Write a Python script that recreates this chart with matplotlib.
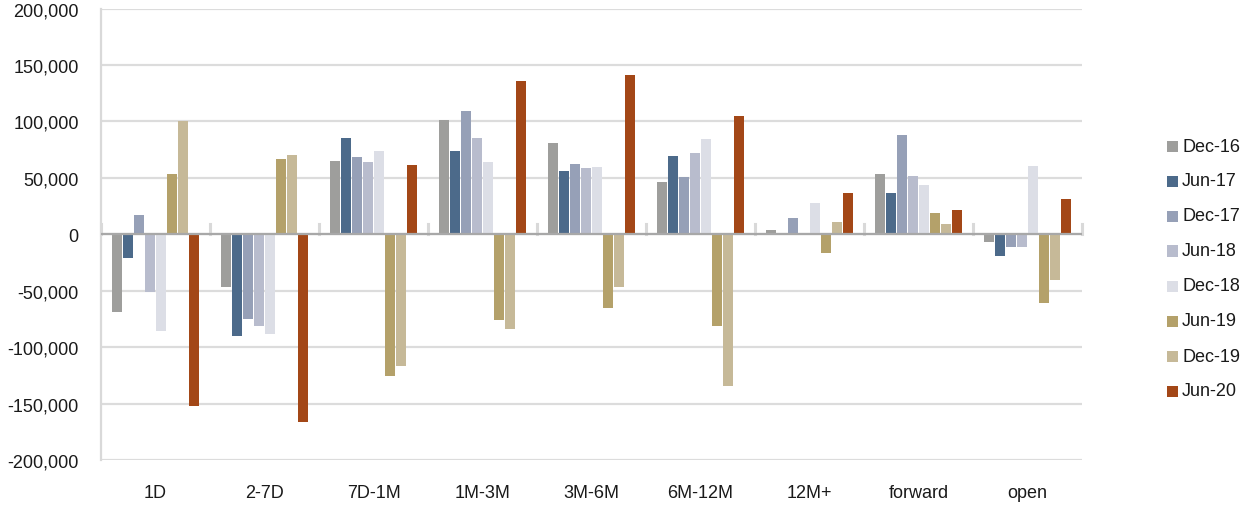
import matplotlib
matplotlib.use("Agg")
import matplotlib.pyplot as plt
from matplotlib.patches import Rectangle
from matplotlib.ticker import FuncFormatter, MultipleLocator
import numpy as np

plt.rcParams["font.family"] = ["Liberation Sans", "DejaVu Sans"]

categories = ["1D", "2-7D", "7D-1M", "1M-3M", "3M-6M", "6M-12M", "12M+", "forward", "open"]
series_names = ["Dec-16", "Jun-17", "Dec-17", "Jun-18", "Dec-18", "Jun-19", "Dec-19", "Jun-20"]
series_colors = ["#9e9e9c", "#4c6a8a", "#96a0b7", "#b8bccd", "#dcdee6", "#b4a16a", "#c6b998", "#a34717"]

dec16 = [-69000, -46600, 64600, 100900, 80500, 46000, 3500, 53100, -6800]
jun17 = [-21000, -90000, 85000, 73500, 55800, 69000, 1000, 36300, -19200]
dec17 = [16800, -75000, 68100, 108900, 62000, 50400, 14200, 87600, -11200]
jun18 = [-51000, -81000, 63700, 85000, 58400, 71700, 1500, 51300, -11200]
dec18 = [-85500, -88200, 73500, 63700, 59300, 84100, 27400, 43400, 60200]
jun19 = [53100, 66400, -125400, -75800, -65200, -81100, -16500, 18600, -60800]
dec19 = [100000, 70000, -116500, -83800, -46600, -134200, 10600, 8900, -40400]
jun20 = [-152000, -166000, 61000, 135400, 140700, 104400, 36300, 21200, 31000]

series_values = [dec16, jun17, dec17, jun18, dec18, jun19, dec19, jun20]

fig = plt.figure(figsize=(12.57, 5.06), dpi=100)
ax = fig.add_axes([0.0804, 0.0889, 0.8804 - 0.0804 - 0.0196, 0.9812 - 0.0889])

x = np.arange(len(categories))
pitch = 0.101
width = 0.092
for i, (name, vals, col) in enumerate(zip(series_names, series_values, series_colors)):
    ax.bar(x + (i - 3.5) * pitch, vals, width=width, color=col, label=name, zorder=3)

ax.set_xlim(-0.5, len(categories) - 0.5)
ax.set_ylim(-200000, 200000)
ax.yaxis.set_major_locator(MultipleLocator(50000))
ax.yaxis.set_major_formatter(FuncFormatter(lambda v, p: f"{int(v):,}"))
ax.grid(axis="y", color="#dcdcdc", linewidth=1.6, zorder=0)
ax.axhline(0, color="#a8a8a8", linewidth=1.6, zorder=4)

# small separators between category groups, sitting on the zero line
for b in np.arange(-0.5, len(categories) + 0.5, 1.0):
    ax.plot([b, b], [0, 9500], color="#d9d9d9", linewidth=2.2, zorder=2, clip_on=False)

ax.set_xticks(x)
ax.set_xticklabels(categories)
ax.tick_params(axis="both", length=0, labelsize=13, colors="#1a1a1a")
ax.tick_params(axis="y", pad=16)
ax.tick_params(axis="x", pad=17)

for s in ["top", "right", "bottom"]:
    ax.spines[s].set_visible(False)
ax.spines["left"].set_color("#d9d9d9")
ax.spines["left"].set_linewidth(1.6)

# legend drawn as a vertical list of swatches at the right
leg_x = 1167 / 1257
y0 = 147
dy = 35
for i, (name, col) in enumerate(zip(series_names, series_colors)):
    yc = 1 - (y0 + i * dy) / 506
    fig.patches.append(Rectangle((leg_x, yc - 5.5 / 506), 11 / 1257, 11 / 506,
                                 transform=fig.transFigure, facecolor=col, edgecolor="none"))
    fig.text(1182 / 1257, yc, name, fontsize=13, va="center", ha="left", color="#1a1a1a")

fig.savefig("out.png", dpi=100, facecolor="white")
